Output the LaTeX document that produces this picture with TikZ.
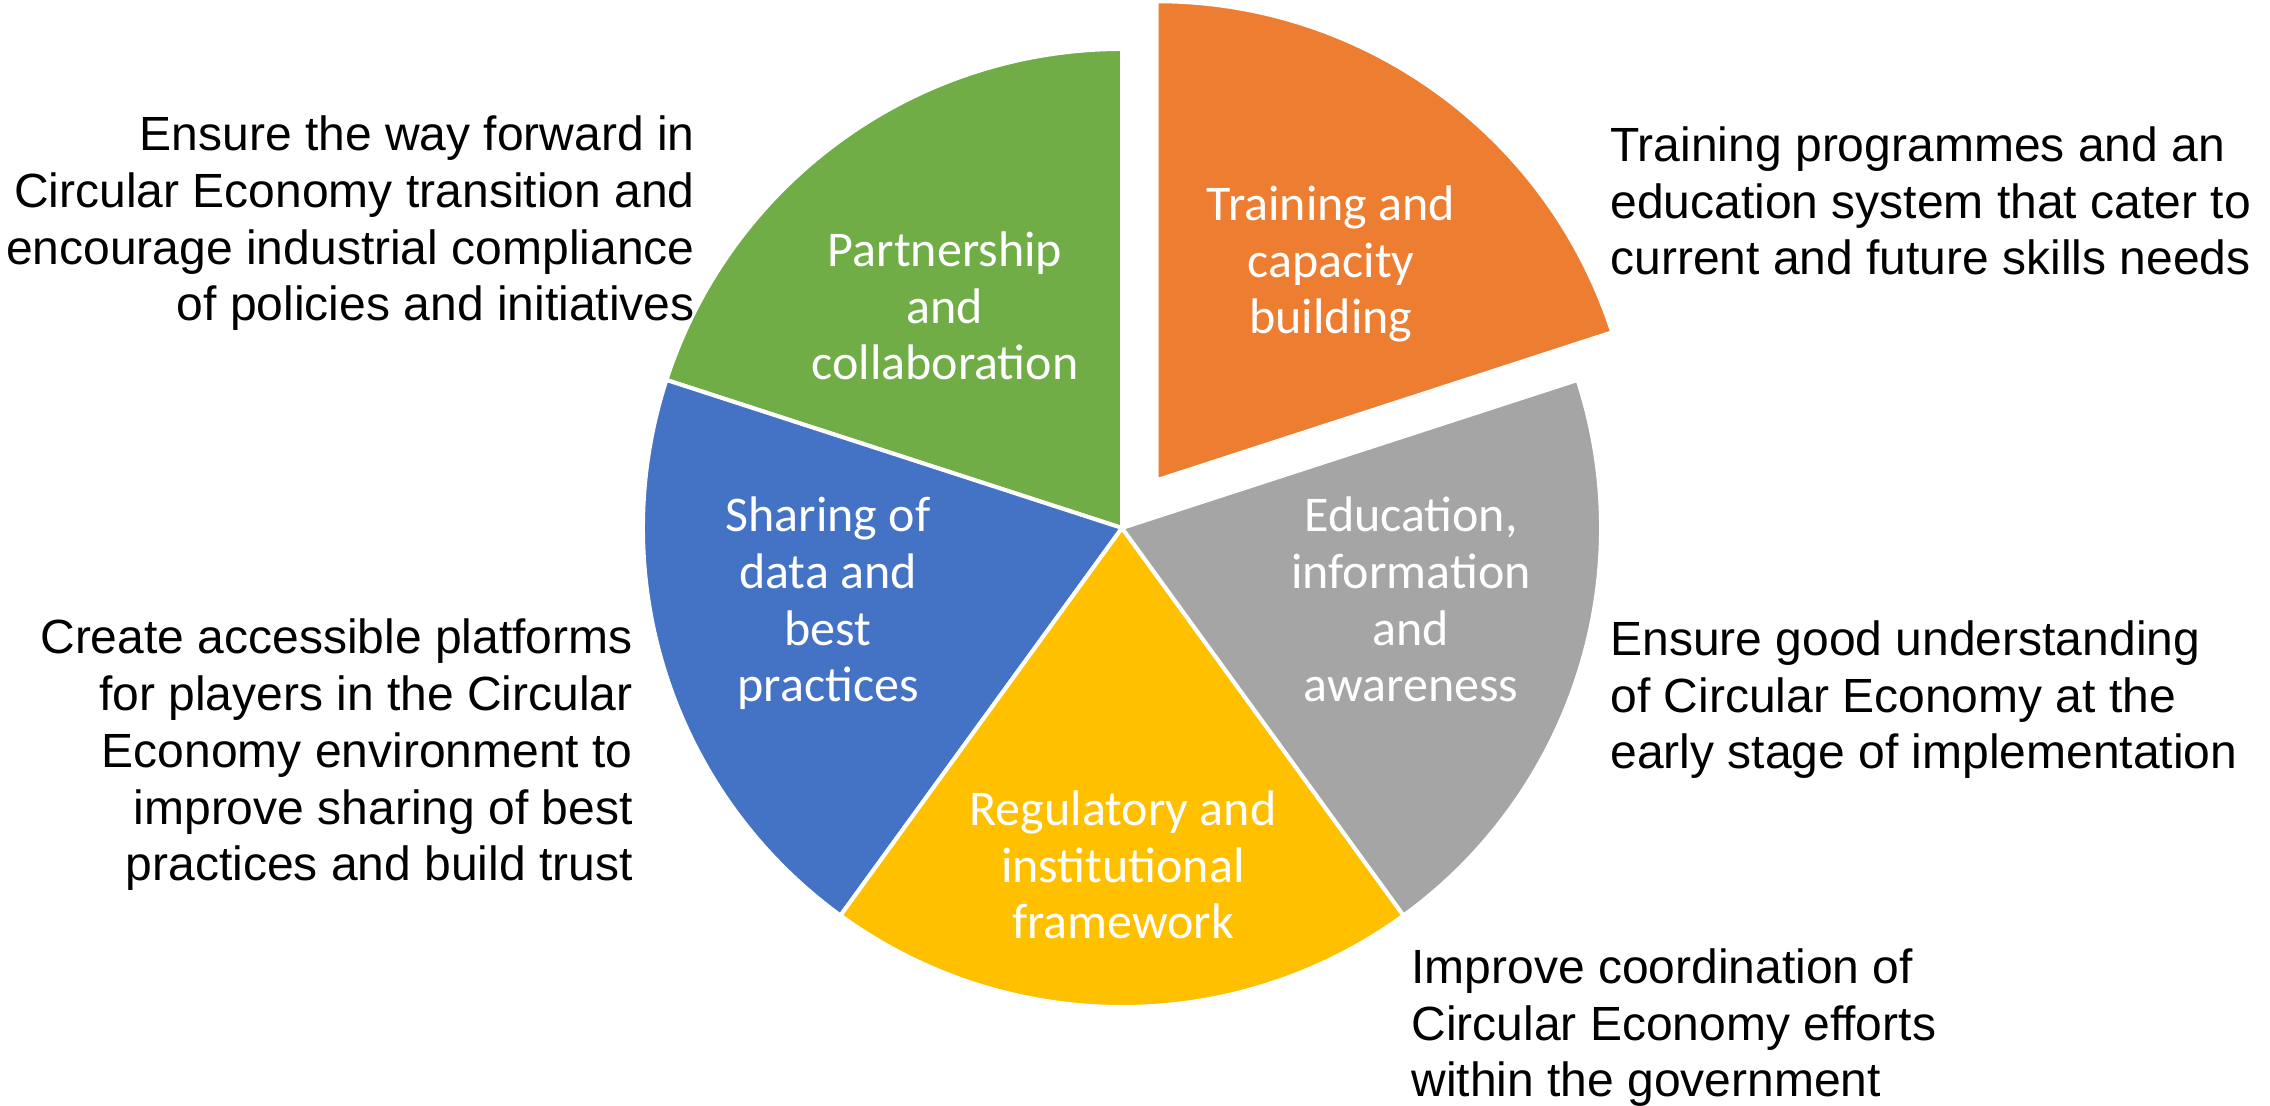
\documentclass[tikz,border=0pt]{standalone}
\usepackage{fontspec}
\usetikzlibrary{calc}
\setmainfont{Liberation Sans}
\newfontfamily\notefont{Liberation Sans}
\newfontfamily\slicefont{Carlito}
\definecolor{pieorange}{HTML}{ED7D31}
\definecolor{piegray}{HTML}{A5A5A5}
\definecolor{pieyellow}{HTML}{FFC000}
\definecolor{pieblue}{HTML}{4472C4}
\definecolor{piegreen}{HTML}{70AD47}

\begin{document}
\begin{tikzpicture}[x=0.5pt,y=0.5pt]
        \tikzstyle{slice}=[draw=white,line width=2pt,line join=round]
        \tikzstyle{inner}=[white,align=center,inner sep=0pt,anchor=base,font=\slicefont\fontsize{25}{28.4}\selectfont]
        \tikzstyle{note}=[black,inner sep=0pt,font=\notefont\fontsize{24}{28.4}\selectfont]

        \useasboundingbox (0,0) rectangle (2270,1106);

        \coordinate (c) at (1122,578);
        \coordinate (co) at ($(c)+(54:59)$);

        % slices
        \path[slice, fill=piegreen]  (c) -- ++(90:479) arc[start angle=90, end angle=162, radius=479] -- cycle;
        \path[slice, fill=pieblue]   (c) -- ++(162:479) arc[start angle=162, end angle=234, radius=479] -- cycle;
        \path[slice, fill=pieyellow] (c) -- ++(234:479) arc[start angle=234, end angle=306, radius=479] -- cycle;
        \path[slice, fill=piegray]   (c) -- ++(306:479) arc[start angle=306, end angle=378, radius=479] -- cycle;
        \path[slice, fill=pieorange] (co) -- ++(18:479) arc[start angle=18, end angle=90, radius=479] -- cycle;

        % slice labels (base = last line)
        \node[inner] (ttraining) at (1331,772) {Training and\\capacity\\building};
        \node[inner] (tpartner) at (945,726) {Partnership\\and\\collaboration};
        \node[inner] (tsharing) at (828,404) {Sharing of\\data and\\best\\practices};
        \node[inner] (teducation) at (1411,404) {Education,\\information\\and\\awareness};
        \node[inner] (tregulatory) at (1123,167) {Regulatory and\\institutional\\framework};

        % notes
        \node[note, align=right, anchor=base east] (npartner) at (695,785)
            {Ensure the way forward in\\Circular Economy transition and\\encourage industrial compliance\\of policies and initiatives};
        \node[note, align=left, anchor=base west] (ntraining) at (1610,831)
            {Training programmes and an\\education system that cater to\\current and future skills needs};
        \node[note, align=left, anchor=base west] (neducation) at (1610,337)
            {Ensure good understanding\\of Circular Economy at the\\early stage of implementation};
        \node[note, align=left, anchor=base west] (nregulatory) at (1411,9)
            {Improve coordination of\\Circular Economy efforts\\within the government};
        \node[note, align=right, anchor=base east] (nsharing) at (633,225)
            {Create accessible platforms\\for players in the Circular\\Economy environment to\\improve sharing of best\\practices and build trust};
\end{tikzpicture}
\end{document}
